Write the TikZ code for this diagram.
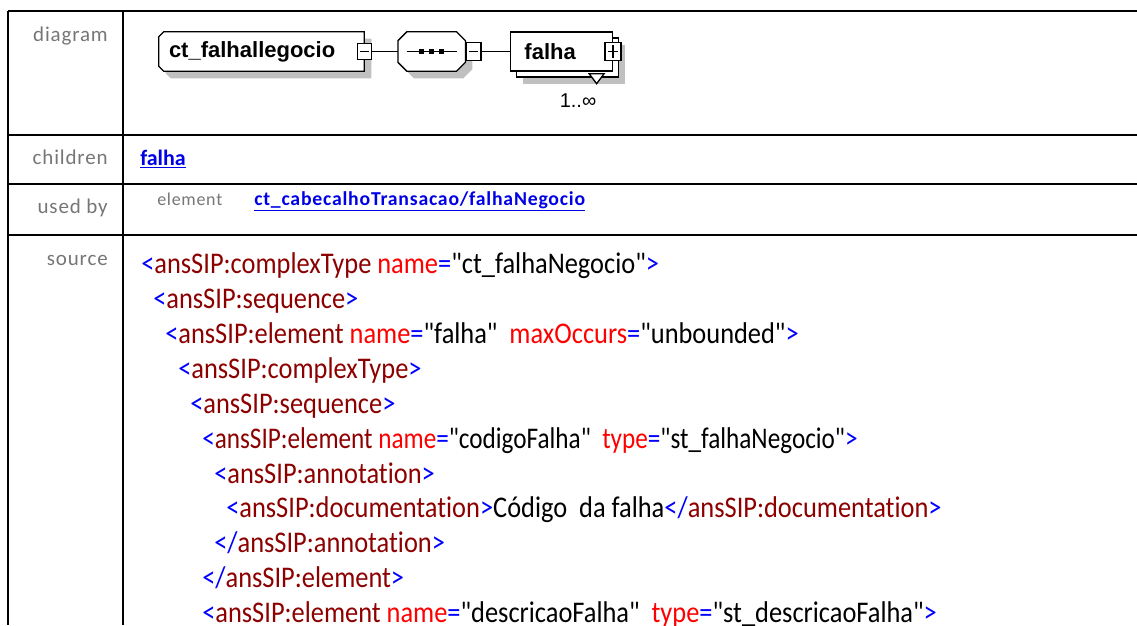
\documentclass[tikz,border=0pt]{standalone}
\usepackage{fontspec}
\setmainfont{Carlito}
\newfontfamily\labelfont[LetterSpace=4]{Carlito}
\newfontfamily\srcfont[FakeStretch=0.88,Ligatures=NoCommon]{Carlito}
\newfontfamily\srcnarrow[FakeStretch=0.84,Ligatures=NoCommon]{Carlito}
\newfontfamily\diafont{Liberation Sans}
\usepackage{xcolor}
\usepackage{tikz}
\usetikzlibrary{positioning,shadows,backgrounds}

\definecolor{tagblue}{RGB}{0,0,255}
\definecolor{elemred}{RGB}{140,0,0}
\definecolor{attrred}{RGB}{255,0,0}
\definecolor{linkblue}{RGB}{0,0,230}
\definecolor{labelgray}{RGB}{118,118,118}
\definecolor{shadowgray}{RGB}{192,192,192}

% xml colouring
\newcommand\xmltag[1]{\textcolor{tagblue}{<}\textcolor{elemred}{#1}}
\newcommand\xmlclose[1]{\textcolor{tagblue}{</}\textcolor{elemred}{#1}}
\newcommand\xmlattr[2]{\textcolor{attrred}{#1}\textcolor{tagblue}{=}"#2"}
\newcommand\xmlend{\textcolor{tagblue}{>}}

\begin{document}
\begin{tikzpicture}[
x=0.75pt, y=-0.75pt,
node distance=0pt,
rule/.style={line width=1.5pt},
rowlabel/.style={anchor=base east, inner sep=0pt, text=labelgray, font=\labelfont\fontsize{15.75}{18}\selectfont},
link/.style={anchor=base west, inner sep=0pt, text=linkblue, font=\bfseries\fontsize{16.5}{19}\selectfont},
srcline/.style={anchor=base west, inner sep=0pt, font=\srcfont\fontsize{22.5}{26}\selectfont},
diabox/.style={minimum height=29.25pt, inner xsep=7.5pt, inner ysep=0pt, align=left, font=\diafont\bfseries\fontsize{16.5}{19}\selectfont},
% outline with the left corners cut
ctoutline/.style={insert path={([shift={(5,0)}]#1.north west) -- (#1.north east) -- (#1.south east) -- ([shift={(5,0)}]#1.south west) -- ([shift={(0,-5)}]#1.south west) -- ([shift={(0,5)}]#1.north west) -- cycle}},
% outline with all corners cut
seqoutline/.style={insert path={([shift={(9,0)}]#1.north west) -- ([shift={(-9,0)}]#1.north east) -- ([shift={(0,9)}]#1.north east) -- ([shift={(0,-9)}]#1.south east) -- ([shift={(-9,0)}]#1.south east) -- ([shift={(9,0)}]#1.south west) -- ([shift={(0,-9)}]#1.south west) -- ([shift={(0,9)}]#1.north west) -- cycle}},
shade/.style={fill=shadowgray, transform canvas={shift={(5.25pt,-5.25pt)}}},
outline/.style={draw, fill=white, line width=1pt},
elbox/.style={diabox, draw, fill=white, line width=1pt, drop shadow={shadow xshift=9.75pt, shadow yshift=-9.75pt, fill=shadowgray, opacity=1}, copy shadow={shadow xshift=4.5pt, shadow yshift=-4.5pt}, inner xsep=10.5pt, text width=55.5pt, minimum width=76.5pt},
minusbox/.style={draw, fill=white, line width=1pt, inner sep=0pt, minimum width=10.5pt, minimum height=12pt,
  path picture={\draw[black] ([xshift=2pt]path picture bounding box.west) -- ([xshift=-2pt]path picture bounding box.east);}},
plusbox/.style={draw, fill=white, line width=1pt, inner sep=0pt, minimum width=12pt, minimum height=13.5pt,
  path picture={\draw[black] ([xshift=2pt]path picture bounding box.west) -- ([xshift=-2pt]path picture bounding box.east);
    \draw[black] ([yshift=-2pt]path picture bounding box.north) -- ([yshift=2pt]path picture bounding box.south);}},
conn/.style={line width=1pt}
]
\useasboundingbox (0,0) rectangle (1137,625);
\clip (0,0) rectangle (1137,625);

% table
\foreach \y in {11,135,184,235}
  \draw[rule] (8,\y) -- (1137,\y);
\foreach \x in {8,123}
  \draw[rule] (\x,11) -- (\x,625);

\node[rowlabel] (lbldiagram) at (108,41) {diagram};
\node[rowlabel] (lblchildren) at (108,164) {children};
\node[rowlabel] (lblusedby) at (108,213) {used by};
\node[rowlabel] (lblsource) at (108,265) {source};

% diagram
\node[diabox, text width=138.75pt, minimum width=153.75pt] (ct) at (261.5,51.5) {ct\_falhallegocio};
\node[minusbox] (ctminus) at (ct.east) {};
\node[diabox, minimum width=50.25pt, right=19.5pt of ctminus] (seq) {};
\node[minusbox, minimum width=11.25pt, minimum height=13.5pt, right=0pt of seq] (seqminus) {};
\node[elbox, right=21pt of seqminus] (falha) {falha};
\node[plusbox] (falhaplus) at (falha.east) {};
\begin{scope}[on background layer]
  \path[shade, ctoutline=ct];
  \path[outline, ctoutline=ct];
  \path[shade, seqoutline=seq];
  \path[outline, seqoutline=seq];
\end{scope}
\draw[conn] ([xshift=-18.75pt]seq.center) -- ([xshift=18.75pt]seq.center);
\foreach \dx in {-7.5pt,0pt,7.5pt}
  \fill[black] ([xshift=\dx]seq.center) +(-2.5,-2.5) rectangle +(2.5,2.5);
\draw[conn] (ctminus) -- (seq);
\draw[conn] (seqminus) -- (falha);
\draw[conn, fill=white] ([shift={(-24,2)}]falha.south east) -- ([shift={(-9,2)}]falha.south east) -- ([shift={(-16.5,12)}]falha.south east) -- cycle;
\node[inner sep=0pt, font=\diafont\fontsize{15}{17}\selectfont] (mult) at (578,101) {1..∞};

% children / used by
\node[link] (childlink) at (140,165) {\underline{falha}};
\node[anchor=base west, inner sep=0pt, text=labelgray, font=\labelfont\fontsize{13.5}{16}\selectfont] (usedkind) at (157,205) {element};
\node[link, font=\labelfont\bfseries\fontsize{14.8}{17}\selectfont] (usedlink) at (254,205) {\underline{ct\_cabecalhoTransacao/falhaNegocio}};

% source
\node[srcline] (src1) at (141,273) {\xmltag{ansSIP:complexType} \xmlattr{name}{ct\_falhaNegocio}\xmlend};
\node[srcline] (src2) at (153,308) {\xmltag{ansSIP:sequence}\xmlend};
\node[srcline] (src3) at (165,343) {\xmltag{ansSIP:element} \xmlattr{name}{falha}\ \ \xmlattr{maxOccurs}{unbounded}\xmlend};
\node[srcline] (src4) at (178,378) {\xmltag{ansSIP:complexType}\xmlend};
\node[srcline] (src5) at (190,413) {\xmltag{ansSIP:sequence}\xmlend};
\node[srcline, font=\srcnarrow\fontsize{22.5}{26}\selectfont] (src6) at (202,448) {\xmltag{ansSIP:element} \xmlattr{name}{codigoFalha}\ \ \xmlattr{type}{st\_falhaNegocio}\xmlend};
\node[srcline] (src7) at (214,483) {\xmltag{ansSIP:annotation}\xmlend};
\node[srcline] (src8) at (226,517) {\xmltag{ansSIP:documentation}\xmlend Código\ \ da falha\xmlclose{ansSIP:documentation}\xmlend};
\node[srcline] (src9) at (214,552) {\xmlclose{ansSIP:annotation}\xmlend};
\node[srcline] (src10) at (202,587) {\xmlclose{ansSIP:element}\xmlend};
\node[srcline] (src11) at (202,622) {\xmltag{ansSIP:element} \xmlattr{name}{descricaoFalha}\ \ \xmlattr{type}{st\_descricaoFalha}\xmlend};
\end{tikzpicture}
\end{document}
